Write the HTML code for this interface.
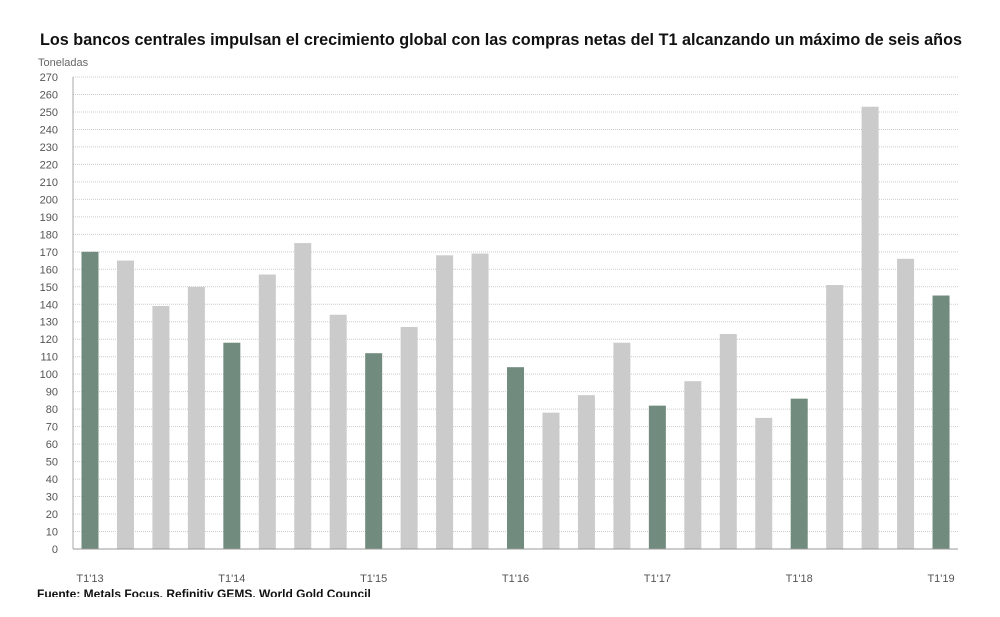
<!DOCTYPE html>
<html><head><meta charset="utf-8"><style>
body{margin:0;background:#fff;width:1000px;height:612px;overflow:hidden;font-family:"Liberation Sans",sans-serif}
</style></head><body>
<svg width="1000" height="612">
<text x="40" y="45" font-size="17" font-weight="bold" fill="#111" textLength="922" lengthAdjust="spacingAndGlyphs">Los bancos centrales impulsan el crecimiento global con las compras netas del T1 alcanzando un máximo de seis años</text>
<text x="38" y="66" font-size="11" fill="#666">Toneladas</text>
<g id="grid"></g><g id="bars"></g><g id="xl"></g>
<line x1="73" y1="77" x2="73" y2="549" stroke="#aaa"/>
<line x1="73" y1="549" x2="958" y2="549" stroke="#999"/>
<svg x="0" y="584" width="1000" height="13" overflow="hidden"><text x="37" y="14" font-size="12" font-weight="bold" fill="#111">Fuente: Metals Focus, Refinitiv GEMS, World Gold Council</text></svg>
</svg>
<script>
const categories=["T1'13","T2'13","T3'13","T4'13","T1'14","T2'14","T3'14","T4'14","T1'15","T2'15","T3'15","T4'15","T1'16","T2'16","T3'16","T4'16","T1'17","T2'17","T3'17","T4'17","T1'18","T2'18","T3'18","T4'18","T1'19"];
const values=[170,165,139,150,118,157,175,134,112,127,168,169,104,78,88,118,82,96,123,75,86,151,253,166,145];
const yTicks=[0,10,20,30,40,50,60,70,80,90,100,110,120,130,140,150,160,170,180,190,200,210,220,230,240,250,260,270];
const NS="http://www.w3.org/2000/svg";
const y=v=>549-v*(472/270);
const x=i=>90+i*35.46;
const grid=document.getElementById('grid');
yTicks.forEach(t=>{
 if(t>0){const l=document.createElementNS(NS,'line');
 l.setAttribute('x1',73);l.setAttribute('x2',958);l.setAttribute('y1',y(t));l.setAttribute('y2',y(t));
 l.setAttribute('stroke','#ccc');l.setAttribute('stroke-dasharray','1,1');
 
 
 grid.appendChild(l);}
 const tx=document.createElementNS(NS,'text');
 tx.setAttribute('x',58);tx.setAttribute('y',y(t)+4);tx.setAttribute('text-anchor','end');
 tx.setAttribute('font-size','11');tx.setAttribute('fill','#555');tx.textContent=t;
 
 
 grid.appendChild(tx);
});
const bars=document.getElementById('bars'),xl=document.getElementById('xl');
values.forEach((v,i)=>{
 const r=document.createElementNS(NS,'rect');
 r.setAttribute('x',x(i)-8.5);r.setAttribute('width',17);r.setAttribute('y',y(v));r.setAttribute('height',549-y(v));
 r.setAttribute('fill',i%4===0?'#718b7e':'#cbcbcb');
 
 
 bars.appendChild(r);
 if(i%4===0){const t=document.createElementNS(NS,'text');
 t.setAttribute('x',x(i));t.setAttribute('y',582);t.setAttribute('text-anchor','middle');
 t.setAttribute('font-size','11');t.setAttribute('fill','#555');t.textContent=categories[i];
 
 
 xl.appendChild(t);}
});
</script>
</body></html>
